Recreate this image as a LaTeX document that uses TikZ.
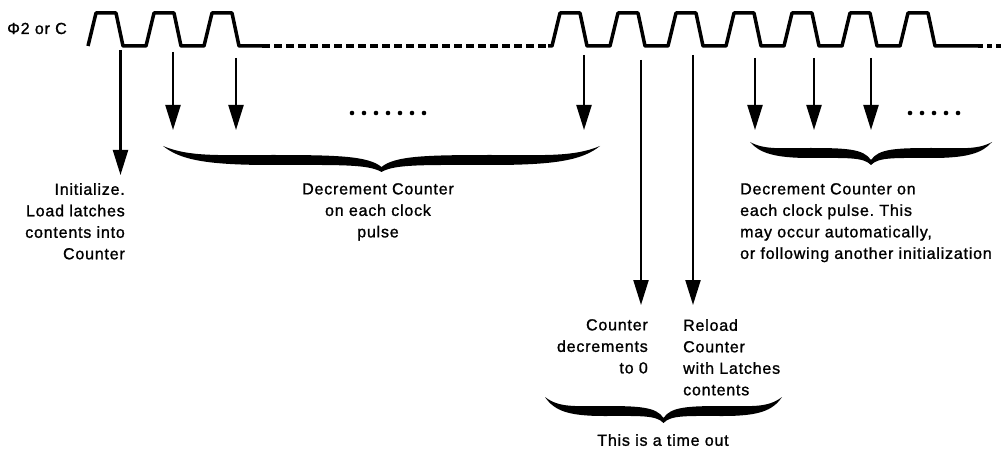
\documentclass[tikz,border=0pt]{standalone}
\usepackage{fontspec}
\setmainfont{Liberation Sans}[LetterSpace=5, FakeBold=1.2]
\usetikzlibrary{arrows.meta}

\tikzset{
  wave/.style={line width=3.5pt, line join=round},
  tick/.style={line width=2.2pt, -{Triangle[width=15pt,length=25pt]}},
  txt/.style={inner sep=0pt, font=\fontsize{16}{21.5}\selectfont\frenchspacing},
}

% filled curly brace opening downwards: x1, x2, y of the ends, depth of the tip
\newcommand{\curlybrace}[4]{%
  \pgfmathsetmacro{\brmid}{(#1+#2)/2}
  \pgfmathsetmacro{\brhalf}{(#2-#1)/2}
  \pgfmathsetmacro{\brarm}{#3+#4-12}
  \fill (#1,#3)
    .. controls ({#1+0.08*\brhalf},\brarm) and ({#1+0.2*\brhalf},{\brarm+5}) .. ({#1+0.5*\brhalf},{\brarm+5})
    .. controls ({#1+0.8*\brhalf},{\brarm+5}) and ({\brmid-0.06*\brhalf},{\brarm+4}) .. (\brmid,{#3+#4})
    .. controls ({\brmid+0.06*\brhalf},{\brarm+4}) and ({#2-0.8*\brhalf},{\brarm+5}) .. ({#2-0.5*\brhalf},{\brarm+5})
    .. controls ({#2-0.2*\brhalf},{\brarm+5}) and ({#2-0.08*\brhalf},\brarm) .. (#2,#3)
    .. controls ({#2-0.12*\brhalf},{\brarm-3}) and ({#2-0.25*\brhalf},{\brarm-5}) .. ({#2-0.5*\brhalf},{\brarm-5})
    .. controls ({#2-0.8*\brhalf},{\brarm-5}) and ({\brmid+0.06*\brhalf},{\brarm-4}) .. (\brmid,{#3+#4-5})
    .. controls ({\brmid-0.06*\brhalf},{\brarm-4}) and ({#1+0.8*\brhalf},{\brarm-5}) .. ({#1+0.5*\brhalf},{\brarm-5})
    .. controls ({#1+0.25*\brhalf},{\brarm-5}) and ({#1+0.12*\brhalf},{\brarm-3}) .. (#1,#3) -- cycle;
}

\begin{document}
\begin{tikzpicture}[x=1pt,y=-1pt]
    \useasboundingbox (0,0) rectangle (1001,449);

    % Clock levels
    \pgfmathsetmacro{\lo}{46}
    \pgfmathsetmacro{\hi}{13}

    % Clock signal: first burst, gap, second burst
    \draw[wave] (88,\lo) \foreach \x in {88,146,204} {
        -- (\x,\lo) -- (\x+8,\hi) -- (\x+28,\hi) -- (\x+35,\lo) } -- (262,\lo);
    \draw[wave, dash pattern=on 8pt off 4pt] (262,\lo) -- (548,\lo);
    \draw[wave] (548,\lo) \foreach \x in {552,610,...,900} {
        -- (\x,\lo) -- (\x+8,\hi) -- (\x+28,\hi) -- (\x+35,\lo) } -- (978,\lo);
    \draw[wave, dash pattern=on 5pt off 4pt] (978,\lo) -- (1001,\lo);

    \node[txt, anchor=base west] (clk) at (7,34) {Φ2 or C};

    % Arrows hanging from the falling edges
    \foreach \name/\x/\y/\tip in {a1/120.5/50/175, a2/173/52/130, a3/236/58/130,
        a4/584/55/130, a5/641/60/305, a6/693/55/305,
        a7/755/58/130, a8/814/58/130, a9/871/58/130} {
        \coordinate (\name s) at (\x,\y);
        \coordinate (\name e) at (\x,\tip);
        \draw[tick] (\name s) -- (\name e);
    }

    % Dots for the skipped pulses
    \foreach \x in {352,364,...,424} {
        \fill (\x,113) circle (2.3pt);
    }
    \foreach \x in {910,922,...,958} {
        \fill (\x,113) circle (2.3pt);
    }

    % Braces
    \curlybrace{163}{600}{146}{26}
    \curlybrace{750}{992}{142}{23}
    \curlybrace{545}{782}{397}{26}

    % Labels
    \node[txt, anchor=north east, align=right] (init) at (125,183)
        {Initialize.\\Load latches\\contents into\\Counter};
    \node[txt, anchor=north, align=center] (dec) at (378,183)
        {Decrement Counter\\on each clock\\pulse};
    \node[txt, anchor=north west, align=left] (auto) at (740,183)
        {Decrement Counter on\\each clock pulse. This\\may occur automatically,\\or following another initialization};
    \node[txt, anchor=north east, align=right] (zero) at (648,319)
        {Counter\\decrements\\to 0};
    \node[txt, anchor=north west, align=left] (reload) at (683,319)
        {Reload\\Counter\\with Latches\\contents};
    \node[txt, anchor=north] (tout) at (663,434) {This is a time out};

\end{tikzpicture}
\end{document}
